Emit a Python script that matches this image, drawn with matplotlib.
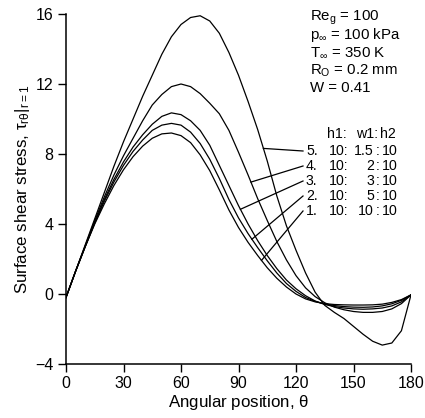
"""
Surface shear stress vs angular position for five h1:w1:h2 ratios
"""

import matplotlib

matplotlib.use("Agg")
import matplotlib.pyplot as plt
import numpy as np

plt.rcParams["font.family"] = ["Liberation Sans", "DejaVu Sans"]
plt.rcParams["mathtext.fontset"] = "dejavusans"

theta = [0, 5, 10, 15, 20, 25, 30, 35, 40, 45, 50, 55, 60, 65, 70, 75, 80, 85, 90,
         95, 100, 105, 110, 115, 120, 125, 130, 135, 140, 145, 150, 155, 160, 165,
         170, 175, 180]

tau_1 = [-0.2, 1.3, 2.7, 4.0, 5.15, 6.2, 7.1, 7.85, 8.45, 8.9, 9.15, 9.2, 9.05, 8.65,
         7.95, 7.05, 5.95, 4.8, 3.8, 2.95, 2.2, 1.5, 0.9, 0.4, 0.0, -0.28, -0.45,
         -0.55, -0.6, -0.62, -0.63, -0.63, -0.62, -0.58, -0.48, -0.32, -0.05]
tau_2 = [-0.2, 1.3, 2.7, 4.05, 5.3, 6.4, 7.35, 8.15, 8.8, 9.35, 9.65, 9.75, 9.65, 9.25,
         8.6, 7.7, 6.6, 5.4, 4.35, 3.45, 2.65, 1.9, 1.2, 0.6, 0.15, -0.2, -0.42,
         -0.57, -0.66, -0.72, -0.75, -0.76, -0.74, -0.68, -0.56, -0.36, -0.05]
tau_3 = [-0.2, 1.3, 2.7, 4.1, 5.4, 6.55, 7.55, 8.4, 9.1, 9.7, 10.15, 10.35, 10.25, 9.9,
         9.35, 8.5, 7.35, 6.2, 5.05, 4.0, 3.05, 2.2, 1.45, 0.8, 0.3, -0.1, -0.4,
         -0.6, -0.72, -0.8, -0.85, -0.87, -0.85, -0.8, -0.68, -0.45, -0.05]
tau_4 = [-0.2, 1.3, 2.75, 4.2, 5.55, 6.8, 7.9, 8.9, 9.9, 10.8, 11.4, 11.85, 12.0, 11.85,
         11.45, 10.9, 10.3, 9.35, 8.1, 6.8, 5.45, 4.2, 3.0, 1.95, 1.05, 0.35, -0.15,
         -0.5, -0.75, -0.9, -1.0, -1.05, -1.05, -1.0, -0.85, -0.55, -0.05]
tau_5 = [-0.2, 1.3, 2.8, 4.3, 5.8, 7.3, 8.7, 10.0, 11.3, 12.5, 13.7, 14.7, 15.4, 15.8,
         15.9, 15.6, 14.9, 13.8, 12.5, 11.0, 9.4, 7.6, 5.6, 3.9, 2.5, 1.2, 0.1,
         -0.65, -1.05, -1.4, -1.85, -2.3, -2.7, -2.92, -2.8, -2.1, -0.05]

curves = [tau_1, tau_2, tau_3, tau_4, tau_5]
case_no = ["1.", "2.", "3.", "4.", "5."]
h1 = ["10:", "10:", "10:", "10:", "10:"]
w1 = ["10", "5", "3", "2", "1.5"]
h2 = ["10", "10", "10", "10", "10"]
# where each leader line meets its curve (degrees)
leader_theta = [102, 97, 91, 96.5, 103]

params = [
    r"Re$_\mathregular{g}$ = 100",
    r"p$_\mathregular{\infty}$ = 100 kPa",
    r"T$_\mathregular{\infty}$ = 350 K",
    r"R$_\mathregular{O}$ = 0.2 mm",
    "W = 0.41",
]

W, H = 425, 418


def fx(px):
    return px / W


def fy(py):
    return 1 - py / H


def main():
    fig = plt.figure(figsize=(W / 100, H / 100), dpi=100)
    ax = fig.add_axes([fx(66), fy(364), (411 - 66) / W, (364 - 14) / H])

    for c in curves:
        ax.plot(theta, c, color="black", lw=0.9)

    ax.set_xlim(0, 180)
    ax.set_ylim(-4, 16)
    ax.set_xticks([0, 30, 60, 90, 120, 150, 180])
    ax.set_yticks([-4, 0, 4, 8, 12, 16])
    for s in ["top", "right"]:
        ax.spines[s].set_visible(False)
    for s in ["left", "bottom"]:
        ax.spines[s].set_linewidth(1.1)
    ax.tick_params(direction="out", length=6, width=1.0, labelsize=11.5, pad=3)
    ax.set_xlabel(r"Angular position, $\mathregular{\theta}$", fontsize=12.2, labelpad=1)
    ax.set_ylabel(r"Surface shear stress, $\mathregular{\tau_{r\theta}|_{r=1}}$",
                  fontsize=12.2, labelpad=2)

    # run conditions
    for i, t in enumerate(params):
        fig.text(fx(310), fy(17.5 + i * 17.7), t, fontsize=10.8, va="center", ha="left")

    # legend table
    fs = 10.2
    fig.text(fx(327), fy(134), "h1:", fontsize=fs, va="center", ha="left")
    fig.text(fx(356), fy(134), "w1:", fontsize=fs, va="center", ha="left")
    fig.text(fx(380), fy(134), "h2", fontsize=fs, va="center", ha="left")
    row_y = {4: 151, 3: 166, 2: 181, 1: 196, 0: 211}
    for i in range(len(curves)):
        y = row_y[i]
        fig.text(fx(306), fy(y), case_no[i], fontsize=fs, va="center", ha="left")
        fig.text(fx(329), fy(y), h1[i], fontsize=fs, va="center", ha="left")
        fig.text(fx(374), fy(y), w1[i], fontsize=fs, va="center", ha="right")
        fig.text(fx(375.5), fy(y), ":", fontsize=fs, va="center", ha="left")
        fig.text(fx(382), fy(y), h2[i], fontsize=fs, va="center", ha="left")

        # leader from label to curve
        start = ax.transData.inverted().transform(
            fig.transFigure.transform((fx(303), fy(y))))
        end_y = np.interp(leader_theta[i], theta, curves[i])
        ax.plot([start[0], leader_theta[i]], [start[1], end_y], color="black", lw=0.9,
                clip_on=False)

    fig.savefig("out.png", dpi=100)
    plt.close(fig)


if __name__ == "__main__":
    main()
